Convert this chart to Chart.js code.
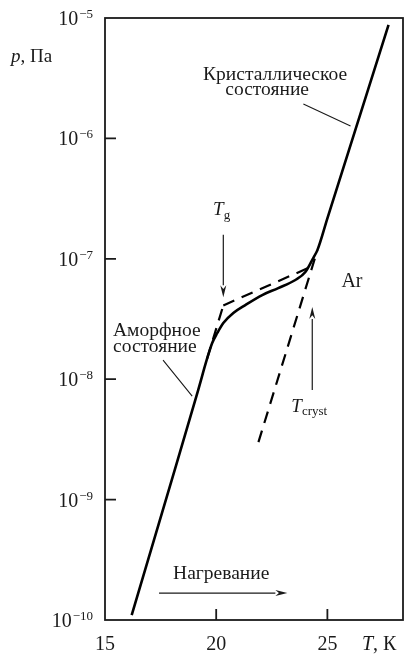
<!DOCTYPE html>
<html>
<head>
<meta charset="utf-8">
<script src="https://cdn.jsdelivr.net/npm/chart.js@4.4.0/dist/chart.umd.min.js"></script>
<style>
  body { margin: 0; background: #fff; }
  canvas { display: block; }
</style>
</head>
<body>
<canvas id="arChart" width="406" height="655"></canvas>
<script>
// Ar vapour pressure vs temperature on heating
const solidT = [16.2, 18.0, 19.19, 19.59, 19.82, 20.05, 20.32, 20.77, 21.31, 22.07, 22.79, 23.56, 24.01, 24.37, 24.55, 25.0, 27.75];
const solidP = [1.1e-10, 1.45e-9, 8.13e-9, 1.48e-8, 2.0e-8, 2.42e-8, 2.93e-8, 3.55e-8, 4.13e-8, 5.0e-8, 5.71e-8, 6.67e-8, 7.76e-8, 1.02e-7, 1.18e-7, 2.17e-7, 8.75e-6];

// extrapolated branches (dashed)
const amorphExtT = [19.59, 20.32];
const amorphExtP = [1.48e-8, 4.1e-8];
const glassT = [20.32, 24.2];
const glassP = [4.1e-8, 8.49e-8];
const crystExtT = [21.9, 24.55];
const crystExtP = [3.0e-9, 1.18e-7];

const xTicks = [15, 20, 25];
const yExponents = [-10, -9, -8, -7, -6, -5];

const serif = '"Liberation Serif", "DejaVu Serif", serif';
const ink = '#1a1a1a';

function pts(ts, ps) {
  return ts.map((t, i) => ({ x: t, y: ps[i] }));
}

// [T, log10 p] anchors for labels and arrows
const notes = {
  arrows: [
    { from: [20.32, -6.80], to: [20.32, -7.32] },
    { from: [24.32, -8.09], to: [24.32, -7.40] },
    { from: [17.43, -9.776], to: [23.2, -9.776] }
  ],
  leaders: [
    { from: [23.92, -5.714], to: [26.04, -5.897] },
    { from: [17.61, -7.841], to: [18.92, -8.140] }
  ],
  texts: [
    { at: [19.41, -5.515], text: 'Кристаллическое' },
    { at: [20.41, -5.64], text: 'состояние' },
    { at: [15.36, -7.64], text: 'Аморфное' },
    { at: [15.36, -7.775], text: 'состояние' },
    { at: [25.63, -7.234], text: 'Ar', size: 20 },
    { at: [18.06, -9.659], text: 'Нагревание' }
  ],
  subs: [
    { at: [19.86, -6.636], main: 'T', sub: 'g', drop: 4 },
    { at: [23.38, -8.272], main: 'T', sub: 'cryst', drop: 3 }
  ]
};

const decor = {
  id: 'decor',
  afterDraw(chart) {
    const ctx = chart.ctx;
    const xs = chart.scales.x, ys = chart.scales.y;
    const a = chart.chartArea;
    const px = t => xs.getPixelForValue(t);
    const py = lg => ys.getPixelForValue(Math.pow(10, lg));

    ctx.save();
    ctx.strokeStyle = ink;
    ctx.fillStyle = ink;

    // frame
    ctx.lineWidth = 1.8;
    ctx.strokeRect(a.left, a.top, a.right - a.left, a.bottom - a.top);

    // inward ticks
    ctx.beginPath();
    xTicks.forEach(t => {
      const x = px(t);
      if (x > a.left + 2) { ctx.moveTo(x, a.bottom); ctx.lineTo(x, a.bottom - 11); }
    });
    yExponents.forEach(e => {
      const y = ys.getPixelForValue(Math.pow(10, e));
      if (y > a.top + 2 && y < a.bottom - 2) { ctx.moveTo(a.left, y); ctx.lineTo(a.left + 11, y); }
    });
    ctx.stroke();

    // tick labels
    ctx.textBaseline = 'alphabetic';
    ctx.font = '20px ' + serif;
    ctx.textAlign = 'center';
    xTicks.forEach(t => ctx.fillText(String(t), px(t), 650));

    yExponents.forEach(e => {
      const y = ys.getPixelForValue(Math.pow(10, e));
      const exp = '\u2212' + Math.abs(e);
      ctx.textAlign = 'right';
      ctx.font = '13px ' + serif;
      const w = ctx.measureText(exp).width;
      ctx.fillText(exp, 93, y);
      ctx.font = '20px ' + serif;
      ctx.fillText('10', 93 - w - 1, y + 7);
    });

    // axis names
    ctx.textAlign = 'left';
    ctx.font = 'italic 19px ' + serif;
    ctx.fillText('p', 11, 62);
    let w = ctx.measureText('p').width;
    ctx.font = '19px ' + serif;
    ctx.fillText(', Па', 11 + w, 62);

    ctx.font = 'italic 20px ' + serif;
    ctx.fillText('T', 362, 650);
    w = ctx.measureText('T').width;
    ctx.font = '20px ' + serif;
    ctx.fillText(', К', 362 + w, 650);

    // leader lines
    ctx.lineWidth = 1.1;
    ctx.beginPath();
    notes.leaders.forEach(l => {
      ctx.moveTo(px(l.from[0]), py(l.from[1]));
      ctx.lineTo(px(l.to[0]), py(l.to[1]));
    });
    ctx.stroke();

    // arrows
    notes.arrows.forEach(ar => {
      const x0 = px(ar.from[0]), y0 = py(ar.from[1]);
      const x1 = px(ar.to[0]), y1 = py(ar.to[1]);
      const ang = Math.atan2(y1 - y0, x1 - x0);
      const len = 12, half = 3;
      const bx = x1 - len * Math.cos(ang), by = y1 - len * Math.sin(ang);
      ctx.lineWidth = 1.2;
      ctx.beginPath();
      ctx.moveTo(x0, y0);
      ctx.lineTo(bx, by);
      ctx.stroke();
      ctx.beginPath();
      ctx.moveTo(x1, y1);
      ctx.lineTo(bx + half * Math.sin(ang), by - half * Math.cos(ang));
      ctx.lineTo(bx + 0.3 * len * Math.cos(ang), by + 0.3 * len * Math.sin(ang));
      ctx.lineTo(bx - half * Math.sin(ang), by + half * Math.cos(ang));
      ctx.closePath();
      ctx.fill();
    });

    // labels
    ctx.textAlign = 'left';
    notes.texts.forEach(t => {
      ctx.font = (t.size || 19.5) + 'px ' + serif;
      ctx.fillText(t.text, px(t.at[0]), py(t.at[1]));
    });
    notes.subs.forEach(s => {
      const x = px(s.at[0]), y = py(s.at[1]);
      ctx.font = 'italic 19px ' + serif;
      ctx.fillText(s.main, x, y);
      const mw = ctx.measureText(s.main).width;
      ctx.font = '13px ' + serif;
      ctx.fillText(s.sub, x + mw, y + s.drop);
    });

    ctx.restore();
  }
};

const dashed = [12, 8];

new Chart(document.getElementById('arChart'), {
  type: 'line',
  data: {
    datasets: [
      {
        data: pts(solidT, solidP),
        borderColor: '#000',
        borderWidth: 2.6,
        cubicInterpolationMode: 'monotone',
        pointRadius: 0
      },
      {
        data: pts(amorphExtT, amorphExtP),
        borderColor: '#000',
        borderWidth: 2.2,
        borderDash: dashed,
        pointRadius: 0
      },
      {
        data: pts(glassT, glassP),
        borderColor: '#000',
        borderWidth: 2.2,
        borderDash: dashed,
        pointRadius: 0
      },
      {
        data: pts(crystExtT, crystExtP),
        borderColor: '#000',
        borderWidth: 2.2,
        borderDash: dashed,
        pointRadius: 0
      }
    ]
  },
  options: {
    responsive: false,
    animation: false,
    layout: { padding: { left: 105, right: 3, top: 18, bottom: 35 } },
    plugins: { legend: { display: false }, tooltip: { enabled: false } },
    scales: {
      x: {
        type: 'linear',
        min: 15,
        max: 28.4,
        grid: { display: false },
        border: { display: false },
        ticks: { display: false },
        afterFit(s) { s.height = 0; }
      },
      y: {
        type: 'logarithmic',
        min: 1e-10,
        max: 1e-5,
        grid: { display: false },
        border: { display: false },
        ticks: { display: false },
        afterFit(s) { s.width = 0; }
      }
    }
  },
  plugins: [decor]
});
</script>
</body>
</html>
